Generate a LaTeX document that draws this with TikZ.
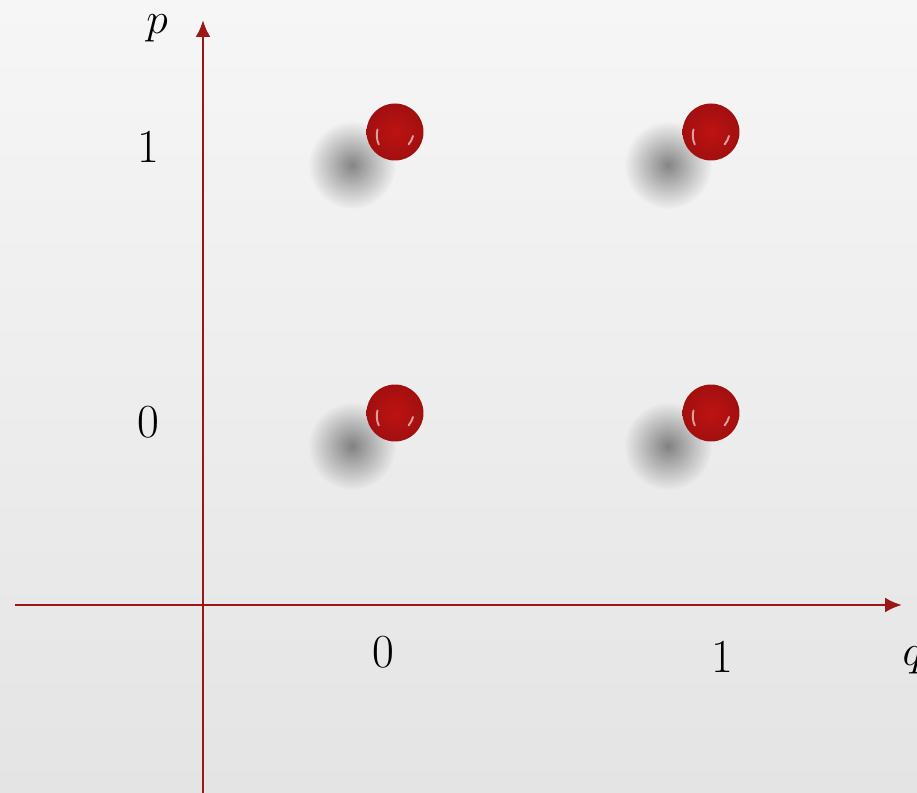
\documentclass[tikz,border=0pt]{standalone}
\usetikzlibrary{arrows.meta,positioning,fadings}
\definecolor{wine}{RGB}{155,22,22}
\definecolor{cherry}{RGB}{190,18,18}
\definecolor{paper}{RGB}{246,246,246}
\definecolor{paperdark}{RGB}{228,228,228}
\tikzfading[name=softspot,inner color=transparent!55,outer color=transparent!100]
\tikzset{
  >={Latex[length=3.4mm,width=3mm]},
  axis/.style={->,draw=wine,line width=1.6pt},
  tick/.style={font=\fontsize{27}{32}\selectfont,inner sep=0pt},
  dot/.style={circle,minimum size=11.4mm,inner sep=0pt,
    shading=radial,inner color=cherry,outer color=cherry!85!black},
  blur/.style={fill=black,path fading=softspot},
  gleam/.style={white,opacity=0.6,line width=1.1pt,line cap=round},
}
\begin{document}
\begin{tikzpicture}[x=0.02cm,y=-0.02cm]
  \useasboundingbox (0,0) rectangle (917,793);
  \shade[top color=paper,bottom color=paperdark] (0,0) rectangle (917,793);
  % axes
  \coordinate (o) at (203,605);
  \coordinate (qa) at (15,605);
  \coordinate (qb) at (902,605);
  \coordinate (pa) at (203,793);
  \coordinate (pb) at (203,20);
  \draw[axis] (qa) -- (qb);
  \draw[axis] (pa) -- (pb);
  \node[tick] (pl) at (157,28) {$p$};
  \node[tick] (ql) at (913,660) {$q$};
  \node[tick] (p1) at (148,147) {1};
  \node[tick] (p0) at (148,422) {0};
  \node[tick] (q0) at (383,652) {0};
  \node[tick] (q1) at (722,657) {1};
  % shadows
  \foreach \x/\y in {352/165,668/165,352/446,668/446}
    \fill[blur] (\x,\y) circle (44);
  % points
  \foreach \x/\y/\n in {395/132/a,711/132/b,395/413/c,711/413/d} {
    \node[dot] (\n) at (\x,\y) {};
    \draw[gleam] ([shift={(-3.5mm,0.5mm)}]\n.center) arc (165:205:4.4mm);
    \draw[gleam] ([shift={(3.6mm,-0.8mm)}]\n.center) arc (-15:-40:4.4mm);
  }
\end{tikzpicture}
\end{document}
